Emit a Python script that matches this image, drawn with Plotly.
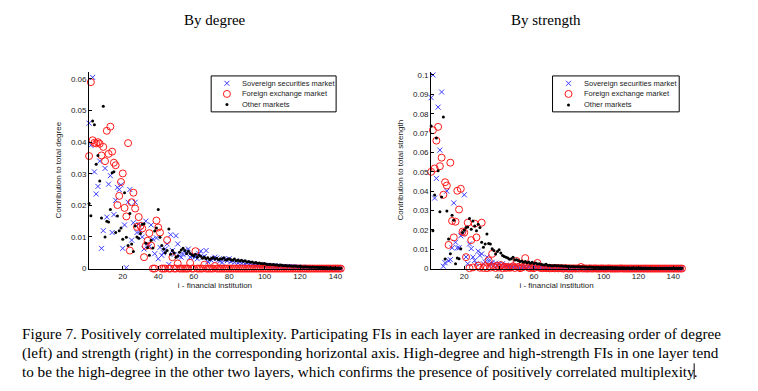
import plotly.graph_objects as go

# ---------------- data ----------------
legend_names = ["Sovereign securities market", "Foreign exchange market", "Other markets"]
panel_titles = ["By degree", "By strength"]
y_titles = ["Contribution to total degree", "Contribution to total strength"]
x_title = "i - financial institution"
x_ticks = [20, 40, 60, 80, 100, 120, 140]

deg_sov = [
    0.0460, 0.0390, 0.0605, 0.0306, 0.0236, 0.0260, 0.0340, 0.0064, 0.0120, 0.0317,
    0.0163, 0.0267, 0.0294, 0.0114, 0.0171, 0.0216, 0.0257, 0.0250, 0.0265, 0.0064,
    0.0138, 0.0003, 0.0210, 0.0250, 0.0090, 0.0145, 0.0210, 0.0114, 0.0140, 0.0120,
    0.0100, 0.0062, 0.0150, 0.0078, 0.0070, 0.0138, 0.0093, 0.0047, 0.0097, 0.0031,
    0.0067, 0.0042, 0.0050, 0.0062, 0.0078, 0.0013, 0.0107, 0.0057, 0.0045, 0.0104,
    0.0078, 0.0040, 0.0036, 0.0045, 0.0057, 0.0047, 0.0062, 0.0036, 0.0040, 0.0042,
    0.0038, 0.0031, 0.0047, 0.0055, 0.0036, 0.0038, 0.0057, 0.0021, 0.0030, 0.0026,
    0.0031, 0.0036, 0.0033, 0.0027, 0.0024, 0.0019, 0.0031, 0.0028, 0.0025, 0.0031,
    0.0022, 0.0026, 0.0020, 0.0024, 0.0018, 0.0022, 0.0017, 0.0020, 0.0015, 0.0018,
    0.0014, 0.0016, 0.0012, 0.0015, 0.0011, 0.0013, 0.0010, 0.0012, 0.0009, 0.0011,
    0.0009, 0.0010, 0.0008, 0.0009, 0.0008, 0.0007, 0.0008, 0.0007, 0.0007, 0.0006,
    0.0007, 0.0006, 0.0006, 0.0005, 0.0006, 0.0005, 0.0005, 0.0004, 0.0005, 0.0004,
    0.0004, 0.0004, 0.0003, 0.0004, 0.0003, 0.0003, 0.0003, 0.0002, 0.0003, 0.0002,
    0.0002, 0.0002, 0.0002, 0.0001, 0.0002, 0.0001, 0.0001, 0.0001, 0.0001, 0.0001,
    0.0000, 0.0001, 0.0000,
]
deg_fx = [
    0.0356, 0.0590, 0.0406, 0.0398, 0.0396, 0.0400, 0.0395, 0.0358, 0.0385, 0.0340,
    0.0436, 0.0363, 0.0449, 0.0370, 0.0335, 0.0327, 0.0201, 0.0230, 0.0274, 0.0301,
    0.0192, 0.0165, 0.0397, 0.0057, 0.0210, 0.0240, 0.0190, 0.0132, 0.0163, 0.0135,
    0.0127, 0.0036, 0.0072, 0.0088, 0.0112, 0.0073, 0.0000, 0.0000, 0.0152, 0.0130,
    0.0114, 0.0000, 0.0000, 0.0000, 0.0090, 0.0000, 0.0000, 0.0036, 0.0000, 0.0000,
    0.0016, 0.0000, 0.0000, 0.0000, 0.0000, 0.0000, 0.0000, 0.0018, 0.0000, 0.0000,
    0.0055, 0.0000, 0.0000, 0.0000, 0.0000, 0.0012, 0.0000, 0.0000, 0.0000, 0.0000,
    0.0000, 0.0008, 0.0000, 0.0000, 0.0000, 0.0000, 0.0000, 0.0000, 0.0000, 0.0000,
    0.0000, 0.0000, 0.0000, 0.0000, 0.0000, 0.0000, 0.0000, 0.0000, 0.0000, 0.0000,
    0.0000, 0.0000, 0.0000, 0.0000, 0.0000, 0.0000, 0.0000, 0.0000, 0.0000, 0.0000,
    0.0000, 0.0000, 0.0000, 0.0000, 0.0000, 0.0000, 0.0000, 0.0000, 0.0000, 0.0000,
    0.0000, 0.0000, 0.0000, 0.0000, 0.0000, 0.0000, 0.0000, 0.0000, 0.0000, 0.0000,
    0.0000, 0.0000, 0.0000, 0.0000, 0.0000, 0.0000, 0.0000, 0.0000, 0.0000, 0.0000,
    0.0000, 0.0000, 0.0000, 0.0000, 0.0000, 0.0000, 0.0000, 0.0000, 0.0000, 0.0000,
    0.0000, 0.0000, 0.0000,
]
deg_oth = [
    0.0206, 0.0167, 0.0467, 0.0455, 0.0330, 0.0358, 0.0277, 0.0160, 0.0514, 0.0100,
    0.0150, 0.0147, 0.0187, 0.0303, 0.0306, 0.0114, 0.0166, 0.0120, 0.0128, 0.0093,
    0.0240, 0.0099, 0.0073, 0.0174, 0.0078, 0.0054, 0.0135, 0.0100, 0.0096, 0.0111,
    0.0140, 0.0142, 0.0080, 0.0067, 0.0042, 0.0090, 0.0065, 0.0119, 0.0128, 0.0187,
    0.0099, 0.0073, 0.0062, 0.0050, 0.0057, 0.0125, 0.0045, 0.0057, 0.0049, 0.0036,
    0.0040, 0.0052, 0.0059, 0.0064, 0.0057, 0.0048, 0.0055, 0.0048, 0.0044, 0.0040,
    0.0045, 0.0036, 0.0042, 0.0039, 0.0033, 0.0036, 0.0031, 0.0034, 0.0029, 0.0032,
    0.0035, 0.0030, 0.0033, 0.0028, 0.0031, 0.0030, 0.0034, 0.0027, 0.0029, 0.0031,
    0.0028, 0.0026, 0.0030, 0.0025, 0.0027, 0.0024, 0.0026, 0.0023, 0.0025, 0.0021,
    0.0022, 0.0020, 0.0021, 0.0018, 0.0019, 0.0017, 0.0018, 0.0016, 0.0015, 0.0016,
    0.0014, 0.0013, 0.0014, 0.0012, 0.0013, 0.0011, 0.0012, 0.0010, 0.0011, 0.0010,
    0.0009, 0.0010, 0.0008, 0.0009, 0.0008, 0.0007, 0.0008, 0.0007, 0.0006, 0.0007,
    0.0006, 0.0005, 0.0006, 0.0005, 0.0005, 0.0004, 0.0005, 0.0004, 0.0004, 0.0004,
    0.0003, 0.0004, 0.0003, 0.0003, 0.0003, 0.0002, 0.0003, 0.0002, 0.0002, 0.0002,
    0.0001, 0.0002, 0.0001,
]

str_sov = [
    0.0883, 0.1000, 0.0364, 0.0466, 0.0834, 0.0612, 0.0912, 0.0012, 0.0030, 0.0400,
    0.0040, 0.0046, 0.0107, 0.0339, 0.0136, 0.0107, 0.0107, 0.0169, 0.0178, 0.0381,
    0.0060, 0.0025, 0.0127, 0.0103, 0.0059, 0.0042, 0.0025, 0.0090, 0.0068, 0.0076,
    0.0025, 0.0034, 0.0059, 0.0040, 0.0020, 0.0032, 0.0018, 0.0028, 0.0015, 0.0022,
    0.0012, 0.0025, 0.0010, 0.0018, 0.0008, 0.0015, 0.0012, 0.0009, 0.0014, 0.0007,
    0.0010, 0.0006, 0.0011, 0.0005, 0.0008, 0.0004, 0.0007, 0.0005, 0.0006, 0.0004,
    0.0005, 0.0003, 0.0005, 0.0004, 0.0003, 0.0004, 0.0003, 0.0004, 0.0002, 0.0003,
    0.0003, 0.0002, 0.0003, 0.0002, 0.0002, 0.0003, 0.0002, 0.0002, 0.0001, 0.0002,
    0.0002, 0.0001, 0.0002, 0.0001, 0.0001, 0.0002, 0.0001, 0.0001, 0.0001, 0.0001,
    0.0001, 0.0001, 0.0001, 0.0001, 0.0000, 0.0001, 0.0001, 0.0000, 0.0001, 0.0000,
    0.0001, 0.0000, 0.0001, 0.0000, 0.0000, 0.0001, 0.0000, 0.0000, 0.0001, 0.0000,
    0.0000, 0.0000, 0.0001, 0.0000, 0.0000, 0.0000, 0.0000, 0.0001, 0.0000, 0.0000,
    0.0000, 0.0000, 0.0000, 0.0000, 0.0001, 0.0000, 0.0000, 0.0000, 0.0000, 0.0000,
    0.0000, 0.0000, 0.0000, 0.0000, 0.0000, 0.0000, 0.0000, 0.0000, 0.0000, 0.0000,
    0.0000, 0.0000, 0.0000, 0.0000, 0.0000,
]
str_fx = [
    0.0500, 0.0715, 0.0517, 0.0661, 0.0732, 0.0529, 0.0573, 0.0381, 0.0446, 0.0429,
    0.0122, 0.0547, 0.0246, 0.0161, 0.0242, 0.0402, 0.0305, 0.0412, 0.0191, 0.0186,
    0.0059, 0.0237, 0.0002, 0.0147, 0.0006, 0.0232, 0.0161, 0.0015, 0.0004, 0.0237,
    0.0003, 0.0012, 0.0002, 0.0042, 0.0005, 0.0076, 0.0010, 0.0003, 0.0015, 0.0005,
    0.0018, 0.0002, 0.0010, 0.0003, 0.0008, 0.0004, 0.0006, 0.0012, 0.0003, 0.0039,
    0.0008, 0.0002, 0.0005, 0.0010, 0.0054, 0.0012, 0.0004, 0.0003, 0.0006, 0.0002,
    0.0010, 0.0029, 0.0005, 0.0003, 0.0002, 0.0004, 0.0002, 0.0003, 0.0001, 0.0002,
    0.0002, 0.0001, 0.0003, 0.0001, 0.0002, 0.0001, 0.0000, 0.0002, 0.0001, 0.0000,
    0.0001, 0.0000, 0.0001, 0.0000, 0.0001, 0.0000, 0.0008, 0.0000, 0.0001, 0.0000,
    0.0000, 0.0001, 0.0000, 0.0000, 0.0001, 0.0000, 0.0000, 0.0000, 0.0001, 0.0000,
    0.0000, 0.0000, 0.0001, 0.0000, 0.0000, 0.0000, 0.0000, 0.0000, 0.0000, 0.0001,
    0.0000, 0.0000, 0.0000, 0.0000, 0.0000, 0.0000, 0.0000, 0.0000, 0.0000, 0.0000,
    0.0000, 0.0000, 0.0000, 0.0000, 0.0000, 0.0000, 0.0000, 0.0000, 0.0000, 0.0000,
    0.0000, 0.0000, 0.0000, 0.0000, 0.0000, 0.0000, 0.0000, 0.0000, 0.0000, 0.0000,
    0.0000, 0.0000, 0.0000, 0.0000, 0.0000,
]
str_oth = [
    0.0737, 0.0195, 0.0380, 0.0674, 0.0505, 0.0293, 0.0370, 0.0783, 0.0050, 0.0297,
    0.0153, 0.0076, 0.0275, 0.0249, 0.0025, 0.0054, 0.0051, 0.0102, 0.0186, 0.0198,
    0.0212, 0.0215, 0.0258, 0.0203, 0.0246, 0.0220, 0.0195, 0.0229, 0.0212, 0.0136,
    0.0110, 0.0127, 0.0178, 0.0130, 0.0127, 0.0102, 0.0093, 0.0075, 0.0088, 0.0097,
    0.0080, 0.0068, 0.0062, 0.0059, 0.0054, 0.0048, 0.0051, 0.0059, 0.0044, 0.0046,
    0.0042, 0.0036, 0.0039, 0.0032, 0.0037, 0.0030, 0.0034, 0.0028, 0.0033, 0.0026,
    0.0029, 0.0024, 0.0025, 0.0022, 0.0020, 0.0018, 0.0022, 0.0016, 0.0017, 0.0014,
    0.0015, 0.0016, 0.0014, 0.0015, 0.0013, 0.0014, 0.0012, 0.0013, 0.0011, 0.0012,
    0.0010, 0.0011, 0.0010, 0.0009, 0.0010, 0.0009, 0.0008, 0.0009, 0.0008, 0.0008,
    0.0007, 0.0008, 0.0007, 0.0007, 0.0006, 0.0007, 0.0006, 0.0006, 0.0006, 0.0005,
    0.0005, 0.0006, 0.0005, 0.0005, 0.0005, 0.0004, 0.0005, 0.0004, 0.0004, 0.0004,
    0.0004, 0.0004, 0.0003, 0.0004, 0.0003, 0.0003, 0.0004, 0.0003, 0.0003, 0.0003,
    0.0003, 0.0003, 0.0002, 0.0003, 0.0002, 0.0002, 0.0003, 0.0002, 0.0002, 0.0002,
    0.0002, 0.0002, 0.0002, 0.0001, 0.0002, 0.0001, 0.0002, 0.0001, 0.0001, 0.0001,
    0.0001, 0.0001, 0.0001, 0.0001, 0.0001,
]

caption_lines = [
    "Figure 7. Positively correlated multiplexity. Participating FIs in each layer are ranked in decreasing order of degree",
    "(left) and strength (right) in the corresponding horizontal axis. High-degree and high-strength FIs in one layer tend",
    "to be the high-degree in the other two layers, which confirms the presence of positively correlated multiplexity.",
]

# ---------------- figure ----------------
# The page body adds an 8 px margin, so the figure is 8 px smaller on each
# axis and all screen positions below are shifted by that offset.
OFF = 8
W, H = 758 - OFF, 391 - OFF
def px(x):
    return (x - OFF) / W
def py(y):
    return 1 - (y - OFF) / H

BLUE, RED = "#3b3bff", "#ff1a1a"
styles = [
    dict(symbol="x-thin-open", size=5, color=BLUE, line=dict(color=BLUE, width=1)),
    dict(symbol="circle-open", size=7, color=RED, line=dict(color=RED, width=1)),
    dict(symbol="circle", size=3, color="black", line=dict(width=0)),
]

fig = go.Figure()
panels = [
    ([deg_sov, deg_fx, deg_oth], "x", "y"),
    ([str_sov, str_fx, str_oth], "x2", "y2"),
]
for series, xa, ya in panels:
    for name, vals, st in zip(legend_names, series, styles):
        fig.add_trace(go.Scatter(
            x=list(range(1, len(vals) + 1)), y=vals, mode="markers", name=name,
            marker=st, xaxis=xa, yaxis=ya, cliponaxis=False, showlegend=False,
        ))

sans = "Liberation Sans, Arial"
tickfont = dict(family=sans, size=8, color="#222")
axis_common = dict(showline=True, linecolor="black", linewidth=1, ticks="inside",
                   ticklen=3, tickcolor="black", showgrid=False, zeroline=False,
                   tickfont=tickfont)
titlefont = dict(family=sans, size=8, color="#222")

# legend boxes (pixel geometry of the reference): left, top, right, bottom, symbol x, text x, row ys
legend_boxes = [
    dict(l=211.7, t=76, r=337, b=112.5, sx=227.5, tx=241, rows=[83.5, 94.3, 105.0]),
    dict(l=554, t=76, r=681, b=112.5, sx=570, tx=584, rows=[83.5, 94.3, 105.5]),
]

layout = dict(
    width=W, height=H, paper_bgcolor="white", plot_bgcolor="white",
    margin=dict(l=0, r=0, t=0, b=0), showlegend=False,
    xaxis=dict(domain=[px(89.3), px(341.7)], range=[1, 143], tickvals=x_ticks,
               anchor="y", title=dict(text=x_title, font=titlefont, standoff=1), **axis_common),
    yaxis=dict(domain=[py(271.7), py(71.7)], range=[0, 0.0623], tick0=0, dtick=0.01,
               anchor="x", title=dict(text=y_titles[0], font=titlefont, standoff=8), **axis_common),
    xaxis2=dict(domain=[px(432.3), px(683.8)], range=[1, 145], tickvals=x_ticks,
                anchor="y2", title=dict(text=x_title, font=titlefont, standoff=1), **axis_common),
    yaxis2=dict(domain=[py(271.7), py(71.7)], range=[0, 0.1017], tick0=0, dtick=0.01,
                anchor="x2", title=dict(text=y_titles[1], font=titlefont, standoff=8), **axis_common),
)

# hand-built legends: an invisible pixel-scaled axis pair per legend box
for k, lb in enumerate(legend_boxes):
    xa_name, ya_name = f"xaxis{k + 3}", f"yaxis{k + 3}"
    xa_ref, ya_ref = f"x{k + 3}", f"y{k + 3}"
    layout[xa_name] = dict(domain=[px(lb["l"]), px(lb["r"])], range=[lb["l"], lb["r"]],
                           visible=False, anchor=ya_ref, fixedrange=True)
    layout[ya_name] = dict(domain=[py(lb["b"]), py(lb["t"])], range=[lb["b"], lb["t"]],
                           visible=False, anchor=xa_ref, fixedrange=True)
    fig.add_shape(type="rect", xref="paper", yref="paper",
                  x0=px(lb["l"]), x1=px(lb["r"]), y0=py(lb["b"]), y1=py(lb["t"]),
                  line=dict(color="black", width=1), fillcolor="rgba(0,0,0,0)", layer="above")
    for name, st, ry in zip(legend_names, styles, lb["rows"]):
        fig.add_trace(go.Scatter(x=[lb["sx"]], y=[ry], mode="markers", marker=st,
                                 xaxis=xa_ref, yaxis=ya_ref, showlegend=False,
                                 hoverinfo="skip", cliponaxis=False))
        fig.add_annotation(text=name, x=px(lb["tx"]), y=py(ry), xref="paper", yref="paper",
                           xanchor="left", yanchor="middle", showarrow=False,
                           font=dict(family=sans, size=7.5, color="#222"))

fig.update_layout(**layout)

serif = "Liberation Serif, DejaVu Serif, serif"
for t, cx in zip(panel_titles, [216, 547]):
    fig.add_annotation(text=t, x=px(cx), y=py(19), xref="paper", yref="paper",
                       xanchor="center", yanchor="middle", showarrow=False,
                       font=dict(family=serif, size=15, color="black"))

for line, cy in zip(caption_lines, [338, 357, 376]):
    fig.add_annotation(text=line, x=px(20), y=py(cy), xref="paper", yref="paper",
                       xanchor="left", yanchor="middle", showarrow=False,
                       font=dict(family=serif, size=15.2, color="black"))

# text cursor left at the end of the caption in the reference
fig.add_shape(type="line", xref="paper", yref="paper", x0=px(696), x1=px(696),
              y0=py(384), y1=py(368), line=dict(color="black", width=1))

fig.write_html("out.html")
